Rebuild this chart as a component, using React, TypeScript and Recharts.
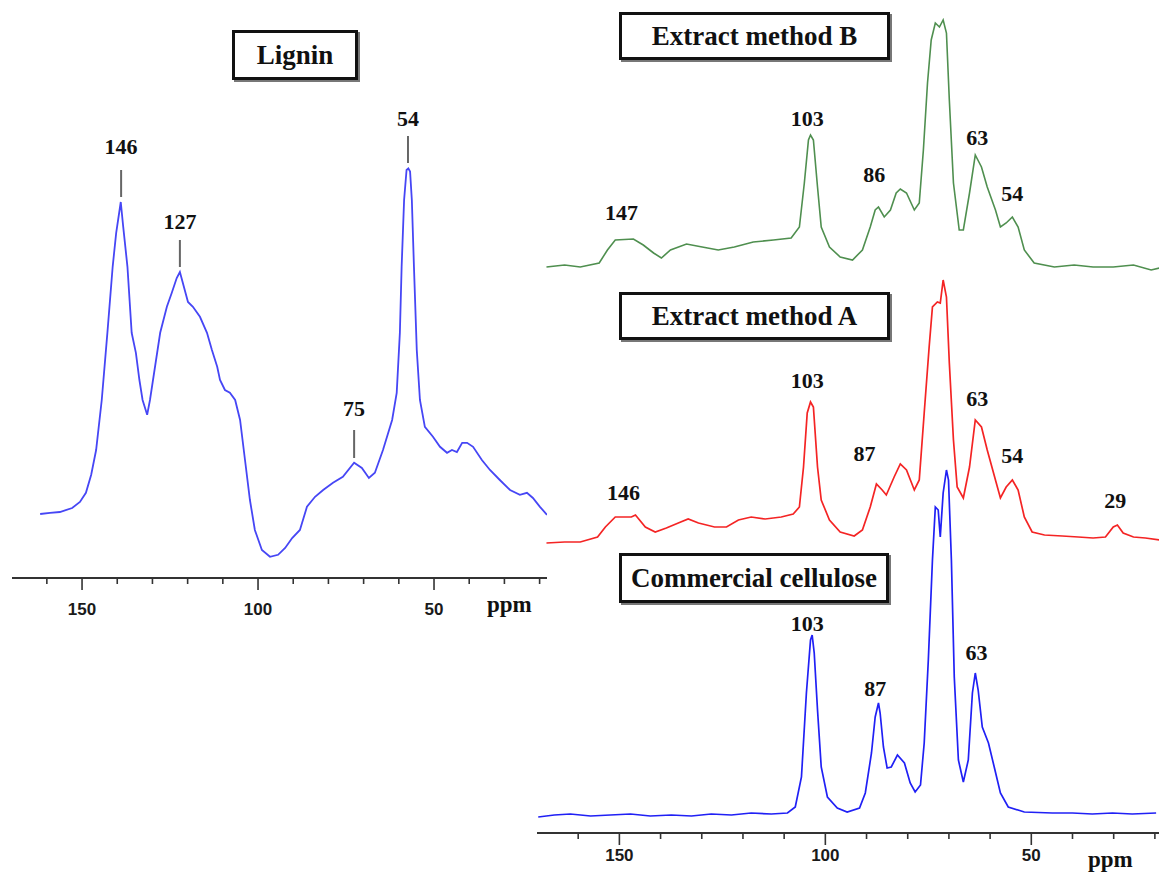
import React from "react";
import { LineChart, Line, XAxis, YAxis, ReferenceDot, ReferenceLine } from "recharts";

// [ppm, intensity (a.u.)]
const ligninPts: [number, number][] = [
  [161.9, 16], [159.1, 16.3], [156.3, 16.5], [152.8, 17.5], [150.6, 19], [148.9, 21.3], [147.4, 25.8],
  [146.0, 32], [144.4, 44.5], [142.8, 61.3], [141.3, 77.8], [140.3, 86.3], [139.0, 94], [138.3, 87.8],
  [137.1, 77.8], [135.9, 61.3], [134.7, 56.3], [133.7, 49.5], [132.8, 44.5], [131.5, 40.8], [130.7, 44.5],
  [127.8, 61.3], [125.9, 67.8], [124.5, 71.3], [123.1, 75], [122.2, 76.5], [119.9, 69], [118.5, 67.8],
  [116.5, 65.3], [114.5, 61.3], [113.1, 57], [111.6, 52.8], [110.8, 49.5], [109.4, 47], [108.0, 46.3],
  [106.5, 44.5], [105.1, 39.5], [103.7, 29.5], [102.3, 19.5], [100.9, 12], [98.9, 7], [96.6, 5.3],
  [94.3, 5.8], [92.3, 7.5], [90.3, 10], [88.1, 12], [86.1, 17.8], [83.8, 20.3], [81.5, 22], [78.7, 23.8],
  [75.9, 25.3], [72.7, 28.8], [70.5, 27.5], [68.5, 25], [66.8, 26.3], [64.5, 32], [61.9, 39.5],
  [60.6, 46.3], [59.7, 61.3], [59.2, 77.8], [58.5, 94.5], [57.8, 102], [57.3, 102.4], [56.8, 101.6],
  [56.3, 94.5], [55.7, 77.8], [54.9, 57], [54.0, 44.5], [52.6, 37.8], [50.3, 35.3], [48.3, 32.8],
  [46.3, 31.3], [44.9, 32], [43.5, 31.5], [42.0, 33.8], [40.6, 33.8], [38.9, 32.8], [36.4, 29.5],
  [34.1, 27], [31.3, 24.5], [28.4, 22], [25.6, 20.8], [23.6, 21.3], [21.9, 20], [19.9, 17.8], [17.9, 15.8],
];

const extractBPts: [number, number][] = [
  [167.7, 0.25], [163.3, 0.75], [159.5, 0.25], [154.9, 1.25], [152.9, 4.5], [151.0, 7], [146.6, 7.25],
  [144.2, 5.75], [141.7, 3.75], [139.8, 2.5], [137.6, 4.5], [133.7, 6], [129.9, 5.25], [126.0, 4.5],
  [122.1, 5.25], [117.5, 6.5], [112.6, 7], [108.3, 7.5], [106.3, 10.25], [105.1, 21.25], [104.1, 32],
  [103.6, 33.25], [102.9, 32], [101.9, 20.25], [101.0, 10.25], [99.0, 5.25], [96.4, 2.75], [93.4, 2],
  [91.0, 4.5], [89.1, 10.25], [87.9, 14.5], [87.1, 15.25], [85.7, 12.75], [84.2, 14.5], [82.8, 18.75],
  [81.8, 19.75], [80.3, 18.75], [78.4, 14.5], [77.2, 16.25], [76.2, 29.5], [75.2, 46.25], [74.3, 57],
  [73.3, 61.25], [72.3, 60.25], [71.4, 62], [70.6, 58.75], [69.9, 42], [68.9, 21.25], [67.5, 9.5],
  [66.5, 9.5], [65.0, 18.75], [63.6, 28.25], [62.1, 25.25], [60.7, 20.25], [58.7, 14.5], [57.5, 10.25],
  [56.1, 11.25], [54.6, 12.75], [53.2, 10.25], [51.7, 4.5], [49.3, 1.25], [44.4, 0.25], [39.6, 0.75],
  [35.0, 0.25], [30.1, 0.25], [25.2, 0.75], [20.9, -0.5], [18.9, 0],
];

const extractAPts: [number, number][] = [
  [167.7, -0.75], [163.3, -0.5], [159.5, -0.5], [155.3, 0.75], [153.4, 3.25], [151.0, 5.75], [147.1, 5.75],
  [146.1, 6.25], [143.7, 3.25], [141.3, 2], [138.6, 3], [135.7, 4.25], [133.3, 5.25], [130.8, 4.25],
  [126.9, 3.25], [124.0, 3.25], [121.1, 5], [118.0, 5.75], [114.6, 5.25], [110.7, 5.75], [107.8, 6.5],
  [106.3, 8.25], [105.3, 18.25], [104.4, 31.75], [103.6, 34.5], [102.9, 33.25], [101.9, 18.25],
  [101.0, 10], [99.0, 5], [96.4, 2], [93.0, 1], [91.0, 2.5], [89.1, 8.25], [87.6, 14], [86.2, 12.5],
  [85.2, 11.25], [83.3, 15.75], [81.8, 19], [80.3, 17.5], [78.4, 12.5], [77.2, 15], [76.0, 31.75],
  [74.8, 48.25], [74.0, 58.25], [72.8, 59.5], [72.1, 59.25], [71.4, 65], [70.6, 60.75], [69.9, 44.25],
  [68.9, 25], [68.0, 13.25], [66.5, 10.5], [65.0, 18.25], [63.6, 30], [62.1, 28.25], [60.7, 22.5],
  [58.7, 15], [57.5, 10.5], [56.1, 13.25], [54.6, 15], [53.2, 12.5], [51.7, 5.75], [49.8, 2], [46.8, 1.25],
  [42.5, 1], [38.6, 0.75], [35.0, 0.5], [32.0, 0.75], [30.1, 3.25], [29.1, 3.75], [27.7, 1.75],
  [25.2, 0.75], [22.3, 0.5], [18.9, 0],
];

const cellulosePts: [number, number][] = [
  [169.7, -0.5], [165.8, 0], [161.9, 0.25], [157.0, -0.25], [152.2, 0], [147.3, 0.25], [142.5, -0.25],
  [137.4, 0], [132.5, -0.25], [127.7, 0.25], [122.8, 0], [118.0, 0.5], [113.1, 0.25], [109.2, 0.5],
  [107.3, 2], [105.8, 9.5], [104.6, 30.5], [103.6, 43.75], [103.2, 45], [102.7, 40.5], [101.9, 26.25],
  [101.0, 12], [99.5, 4.5], [97.1, 1.75], [94.7, 0.75], [91.7, 1.75], [90.3, 5.5], [88.8, 15.5],
  [87.9, 24.5], [87.1, 28], [86.7, 25.5], [85.9, 17], [85.0, 11.75], [84.0, 12], [82.5, 15], [80.8, 13],
  [79.4, 8], [78.2, 5.75], [76.9, 7.5], [76.0, 18], [75.0, 38.75], [74.0, 63.75], [73.3, 77],
  [72.6, 76.25], [72.1, 69.5], [71.4, 80.5], [70.6, 86.25], [70.1, 83.75], [69.4, 63.75], [68.7, 34.5],
  [67.7, 13.75], [66.5, 8.25], [65.3, 13.75], [64.3, 30.5], [63.6, 35.5], [62.9, 31.25], [61.9, 22],
  [60.4, 18], [59.0, 12], [57.5, 5.5], [55.6, 2], [51.7, 0.75], [44.9, 0.5], [40.0, 0.5], [35.2, 0.25],
  [30.3, 0.5], [25.5, 0.25], [19.7, 0.5],
];

const ppmTicks = [160, 150, 140, 130, 120, 110, 100, 90, 80, 70, 60, 50, 40, 30, 20];
const majorTicks = [150, 100, 50];

// peak labels: [ppm, intensity, text]
const ligninLabels: [number, number, string][] = [
  [138.9, 108, "146"], [122.2, 89.25, "127"], [72.7, 42.5, "75"], [57.4, 115, "54"],
];
const ligninMarks: [number, number, number][] = [
  [138.9, 95.25, 102], [122.2, 77.75, 84.5], [72.7, 30, 37], [57.4, 103.75, 110.5],
];
const extractBLabels: [number, number, string][] = [
  [149.5, 14, "147"], [104.4, 37.5, "103"], [88.1, 23.5, "86"], [63.1, 32.75, "63"], [54.6, 18.75, "54"],
];
const extractALabels: [number, number, string][] = [
  [149.0, 12, "146"], [104.4, 40, "103"], [90.5, 21.75, "87"], [63.1, 35.5, "63"], [54.6, 21.25, "54"],
  [29.6, 10, "29"],
];
const celluloseLabels: [number, number, string][] = [
  [104.4, 48, "103"], [87.9, 31.75, "87"], [63.3, 40.75, "63"],
];

const toRows = (pts: [number, number][]) => pts.map(([ppm, v]) => ({ ppm, v }));

const serif = "'Liberation Serif', 'Times New Roman', serif";
const sans = "'Liberation Sans', Arial, sans-serif";

const makeTick = (labelDy: number, majorLen: number) => (props: any) => {
  const { x, y, payload } = props;
  const major = majorTicks.includes(payload.value);
  return (
    <g>
      <line x1={x} x2={x} y1={y} y2={y + (major ? majorLen : 6)} stroke="#333" strokeWidth={1.6} />
      {major && (
        <text x={x} y={y + labelDy} textAnchor="middle" fontFamily={sans} fontWeight="bold" fontSize={17} fill="#1a1a1a">
          {payload.value}
        </text>
      )}
    </g>
  );
};

const peakText = (text: string) => (p: any) => (
  <text
    x={p.cx}
    y={p.cy}
    textAnchor="middle"
    dominantBaseline="central"
    fontFamily={serif}
    fontWeight="bold"
    fontSize={22}
    fill="#111"
  >
    {text}
  </text>
);

function TitleBox({ left, top, width, height, text }: any) {
  return (
    <div
      style={{
        position: "absolute",
        left,
        top,
        width,
        height,
        boxSizing: "border-box",
        border: "3px solid #111",
        boxShadow: "2px 2px 0 #777",
        background: "#fff",
        display: "flex",
        alignItems: "center",
        justifyContent: "center",
        fontFamily: serif,
        fontWeight: "bold",
        fontSize: 27,
        color: "#111",
        whiteSpace: "nowrap",
      }}
    >
      {text}
    </div>
  );
}

export default function App() {
  const lignin = toRows(ligninPts);
  const extB = toRows(extractBPts);
  const extA = toRows(extractAPts);
  const cell = toRows(cellulosePts);

  return (
    <div style={{ position: "absolute", left: 0, top: 0, width: 1159, height: 873, background: "#fff" }}>
      {/* Lignin panel */}
      <div style={{ position: "absolute", left: 0, top: 0 }}>
        <LineChart width={560} height={625} margin={{ top: 0, right: 13, bottom: 7, left: 12 }}>
          <XAxis
            type="number"
            dataKey="ppm"
            domain={[17.9, 169.9]}
            reversed
            allowDataOverflow
            ticks={ppmTicks}
            interval={0}
            height={40}
            tickSize={0}
            tickMargin={0}
            tickLine={false}
            axisLine={{ stroke: "#333", strokeWidth: 2 }}
            tick={makeTick(37, 12)}
          />
          <YAxis hide type="number" domain={[0, 144.5]} allowDataOverflow />
          <Line
            data={lignin}
            dataKey="v"
            type="linear"
            stroke="#4646f5"
            strokeWidth={1.8}
            dot={false}
            isAnimationActive={false}
          />
          {ligninMarks.map(([ppm, y0, y1]) => (
            <ReferenceLine
              key={"m" + ppm}
              segment={[{ x: ppm, y: y0 }, { x: ppm, y: y1 }]}
              stroke="#666"
              strokeWidth={2}
            />
          ))}
          {ligninLabels.map(([ppm, v, t]) => (
            <ReferenceDot key={"l" + t} x={ppm} y={v} r={1} ifOverflow="visible" shape={peakText(t)} />
          ))}
        </LineChart>
      </div>

      {/* Extracts and cellulose panel */}
      <div style={{ position: "absolute", left: 537, top: 0 }}>
        <LineChart width={622} height={873} margin={{ top: 0, right: 0, bottom: 0, left: 0 }}>
          <XAxis
            type="number"
            dataKey="ppm"
            domain={[19, 170]}
            reversed
            allowDataOverflow
            ticks={ppmTicks}
            interval={0}
            height={40}
            tickSize={0}
            tickMargin={0}
            tickLine={false}
            axisLine={{ stroke: "#333", strokeWidth: 2 }}
            tick={makeTick(28, 12)}
          />
          <YAxis yAxisId="b" hide type="number" domain={[-141.25, 67]} allowDataOverflow />
          <YAxis yAxisId="a" hide type="number" domain={[-73.25, 135]} allowDataOverflow />
          <YAxis yAxisId="c" hide type="number" domain={[-4.5, 203.75]} allowDataOverflow />
          <Line
            yAxisId="b"
            data={extB}
            dataKey="v"
            type="linear"
            stroke="#4f8f4f"
            strokeWidth={1.6}
            dot={false}
            isAnimationActive={false}
          />
          <Line
            yAxisId="a"
            data={extA}
            dataKey="v"
            type="linear"
            stroke="#f42424"
            strokeWidth={1.7}
            dot={false}
            isAnimationActive={false}
          />
          <Line
            yAxisId="c"
            data={cell}
            dataKey="v"
            type="linear"
            stroke="#2020f5"
            strokeWidth={1.7}
            dot={false}
            isAnimationActive={false}
          />
          {extractBLabels.map(([ppm, v, t]) => (
            <ReferenceDot key={"b" + t} yAxisId="b" x={ppm} y={v} r={1} ifOverflow="visible" shape={peakText(t)} />
          ))}
          {extractALabels.map(([ppm, v, t]) => (
            <ReferenceDot key={"a" + t} yAxisId="a" x={ppm} y={v} r={1} ifOverflow="visible" shape={peakText(t)} />
          ))}
          {celluloseLabels.map(([ppm, v, t]) => (
            <ReferenceDot key={"c" + t} yAxisId="c" x={ppm} y={v} r={1} ifOverflow="visible" shape={peakText(t)} />
          ))}
        </LineChart>
      </div>

      <TitleBox left={232} top={30} width={126} height={50} text="Lignin" />
      <TitleBox left={619} top={12} width={271} height={48} text="Extract method B" />
      <TitleBox left={619} top={292} width={271} height={48} text="Extract method A" />
      <TitleBox left={619} top={553} width={270} height={50} text="Commercial cellulose" />

      <div style={{ position: "absolute", left: 487, top: 592, fontFamily: serif, fontWeight: "bold", fontSize: 23, color: "#111" }}>
        ppm
      </div>
      <div style={{ position: "absolute", left: 1088, top: 847, fontFamily: serif, fontWeight: "bold", fontSize: 23, color: "#111" }}>
        ppm
      </div>
    </div>
  );
}
